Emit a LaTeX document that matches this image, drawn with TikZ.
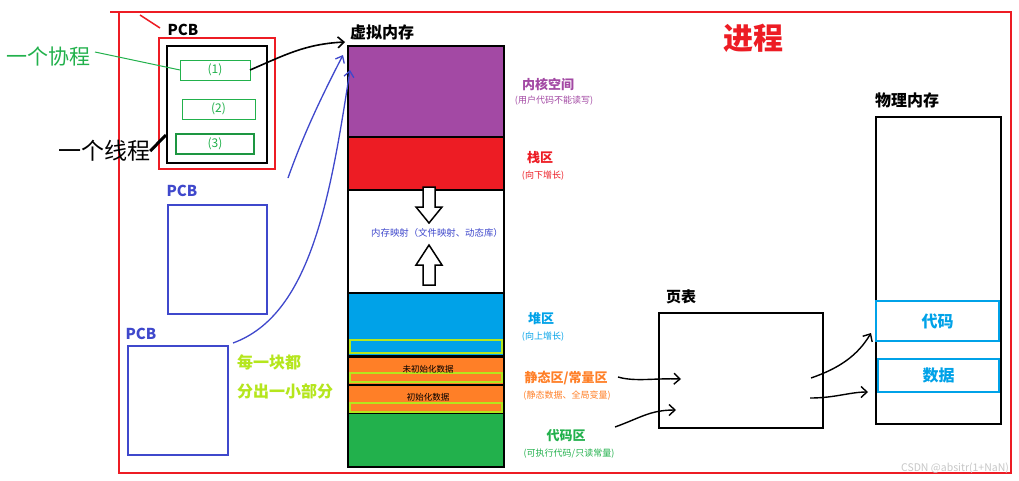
\documentclass[tikz,border=0pt]{standalone}
\usepackage{fontspec}
\setmainfont{Noto Sans CJK SC}
\usetikzlibrary{arrows.meta}
\definecolor{pred}{HTML}{ED1C24}
\definecolor{ppurple}{HTML}{A349A4}
\definecolor{pblue}{HTML}{00A2E8}
\definecolor{porange}{HTML}{FF7F27}
\definecolor{pgreen}{HTML}{22B14C}
\definecolor{plime}{HTML}{B5E61D}
\definecolor{pindigo}{HTML}{3F48CC}
\newcommand\myfs[1]{\fontsize{#1}{#1}\selectfont}
\tikzset{
  box/.style={draw, anchor=north west, inner sep=0pt, outer sep=0pt},
  seg/.style={box, draw=black, line width=1.5pt, minimum width=156pt},
  strip/.style={draw=plime, line width=2.5pt},
  lbl/.style={inner sep=0pt, font=\bfseries\myfs{13}},
  sub/.style={inner sep=0pt, font=\myfs{9}},
  hand/.style={line width=1.6pt, -{Straight Barb[length=6pt,width=11pt]}},
  bhand/.style={draw=pindigo, line width=1.3pt, -{Straight Barb[length=6pt,width=10pt]}},
  hollow/.style={draw=black, fill=white, line width=1.5pt},
  coro/.style={box, text=pgreen, font=\myfs{12}},
}
\begin{document}
\begin{tikzpicture}[x=1pt,y=-1pt]
\useasboundingbox[fill=white] (0,0) rectangle (1019,480);

% process frame
\draw[pred, line width=2.5pt] (110,12) -- (1011,12) -- (1011,473) -- (119,473) -- (119,12);
\draw[pred, line width=1.5pt] (140,15) -- (160,28);
\node[inner sep=0pt, text=pred, font=\bfseries\myfs{30}] (proc) at (753,38) {进程};

% PCB with thread and coroutines
\node[inner sep=0pt, font=\bfseries\myfs{15}] (pcb1t) at (183,30) {PCB};
\node[box, draw=pred, line width=2.5pt, minimum width=116pt, minimum height=131pt] (pcb1) at (159,38) {};
\node[box, draw=black, line width=2.5pt, minimum width=100pt, minimum height=117pt] (thr) at (167,46) {};
\node[coro, draw=pgreen, line width=1pt, minimum width=70pt, minimum height=20pt] (c1) at (180,60) {\makebox[70pt]{(1)}};
\node[coro, draw=pgreen, line width=1pt, minimum width=73pt, minimum height=20pt] (c2) at (182,99) {\makebox[73pt]{(2)}};
\node[coro, draw=pgreen!85!black, line width=2pt, minimum width=78pt, minimum height=20pt] (c3) at (176,134) {\makebox[62pt]{(3)}};

\node[inner sep=0pt, text=pgreen, font=\myfs{21}] (cor) at (48,57) {一个协程};
\draw[pgreen, line width=1pt] (95,52) -- (c1.west);
\node[inner sep=0pt, text=black, font=\myfs{23}] (thrt) at (104,151) {一个线程};
\coordinate (thrpt) at (166,135);
\draw[black, line width=3pt] (thrt.east) -- (thrpt);

% other PCBs
\node[inner sep=0pt, text=pindigo, font=\bfseries\myfs{15}] (pcb2t) at (182,191) {PCB};
\node[box, draw=pindigo, line width=2pt, minimum width=99pt, minimum height=109pt] (pcb2) at (168,205) {};
\node[inner sep=0pt, text=pindigo, font=\bfseries\myfs{15}] (pcb3t) at (141,334) {PCB};
\node[box, draw=pindigo, line width=2pt, minimum width=100pt, minimum height=109pt] (pcb3) at (128,346) {};
\node[inner sep=0pt, text=plime, font=\bfseries\myfs{16}] (ea1) at (269,362) {每一块都};
\node[inner sep=0pt, text=plime, font=\bfseries\myfs{16}] (ea2) at (285,391) {分出一小部分};

% virtual memory
\node[inner sep=0pt, font=\bfseries\myfs{16}] (vmt) at (382,32) {虚拟内存};
\node[seg, fill=ppurple, minimum height=91pt] (kern) at (348,46) {};
\node[seg, fill=pred, minimum height=53pt] (stack) at (348,137) {};
\node[seg, fill=white, minimum height=103pt] (mmap) at (348,190) {};
\node[seg, fill=pblue, minimum height=63pt] (heap) at (348,293) {};
\node[seg, fill=porange, minimum height=28pt] (bss) at (348,357) {};
\node[seg, fill=porange, minimum height=28pt] (data) at (348,385) {};
\node[seg, fill=pgreen, minimum height=54pt] (text) at (348,413) {};
\draw[strip] (350,340) rectangle (502,353);
\draw[strip] (350,373) rectangle (502,382);
\draw[strip] (350,403) rectangle (502,412);
\node[inner sep=0pt, font=\myfs{8.5}] (bsst) at (428,369) {未初始化数据};
\node[inner sep=0pt, font=\myfs{8.5}] (datat) at (428,397) {初始化数据};

\draw[hollow] (423,187) -- (435,187) -- (435,207) -- (442,207) -- (429,223) -- (416,207) -- (423,207) -- cycle;
\draw[hollow] (429,245) -- (442,265) -- (435,265) -- (435,285) -- (423,285) -- (423,265) -- (416,265) -- cycle;
\node[inner sep=0pt, text=pindigo, font=\myfs{9.4}] (mmapt) at (437,233) {内存映射（文件映射、动态库）};

% right labels
\node[lbl, text=ppurple] (kl) at (548,84) {内核空间};
\node[sub, text=ppurple] (ks) at (554,101) {(用户代码不能读写)};
\node[lbl, text=pred] (sl) at (540,158) {栈区};
\node[sub, text=pred] (ss) at (543,176) {(向下增长)};
\node[lbl, text=pblue] (hl) at (541,319) {堆区};
\node[sub, text=pblue] (hs) at (543,337) {(向上增长)};
\node[lbl, text=porange] (dl) at (566,378) {静态区/常量区};
\node[sub, text=porange] (ds) at (567,396) {(静态数据、全局变量)};
\node[lbl, text=pgreen] (tl) at (566,436) {代码区};
\node[sub, text=pgreen] (ts) at (569,454) {(可执行代码/只读常量)};

% page table
\node[inner sep=0pt, font=\bfseries\myfs{15}] (ptt) at (681,297) {页表};
\node[box, draw=black, line width=2pt, minimum width=164pt, minimum height=115pt] (pt) at (659,313) {};

% physical memory
\node[inner sep=0pt, font=\bfseries\myfs{16}] (pmt) at (907,100) {物理内存};
\node[box, draw=black, line width=2pt, minimum width=125pt, minimum height=307pt] (pm) at (876,117) {};
\node[box, draw=pblue, line width=2.5pt, minimum width=123pt, minimum height=40pt] (pcode) at (876,301) {};
\node[inner sep=0pt, text=pblue, font=\bfseries\myfs{16}] at (pcode.center) {代码};
\node[box, draw=pblue, line width=2.5pt, minimum width=121pt, minimum height=33pt] (pdata) at (878,359) {};
\node[inner sep=0pt, text=pblue, font=\bfseries\myfs{16}] at (pdata.center) {数据};

% connectors
\coordinate (vmin) at (345,42);
\draw[hand] (c1.east) .. controls (285,55) and (305,44) .. (vmin);
\coordinate (b1s) at (288,178);
\coordinate (b1e) at (343,55);
\draw[bhand] (b1s) .. controls (305,130) and (325,90) .. (b1e);
\coordinate (b2s) at (233,343);
\coordinate (b2e) at (350,70);
\draw[bhand] (b2s) .. controls (310,315) and (330,200) .. (b2e);

\coordinate (pin1) at (681,379);
\coordinate (pin2) at (676,410);
\draw[hand, line width=1.4pt] (618,377) .. controls (635,382) and (655,378) .. (pin1);
\draw[hand, line width=1.4pt] (615,427) .. controls (640,418) and (650,410) .. (pin2);
\coordinate (pout1) at (871,333);
\coordinate (pout2) at (868,392);
\draw[hand, line width=1.4pt] (811,378) .. controls (840,368) and (858,355) .. (pout1);
\draw[hand, line width=1.4pt] (810,398) .. controls (835,398) and (850,392) .. (pout2);

\node[inner sep=0pt, text=black!22, font=\myfs{10.5}] (wm) at (955,468) {CSDN @absitr(1+NaN)};
\end{tikzpicture}
\end{document}
